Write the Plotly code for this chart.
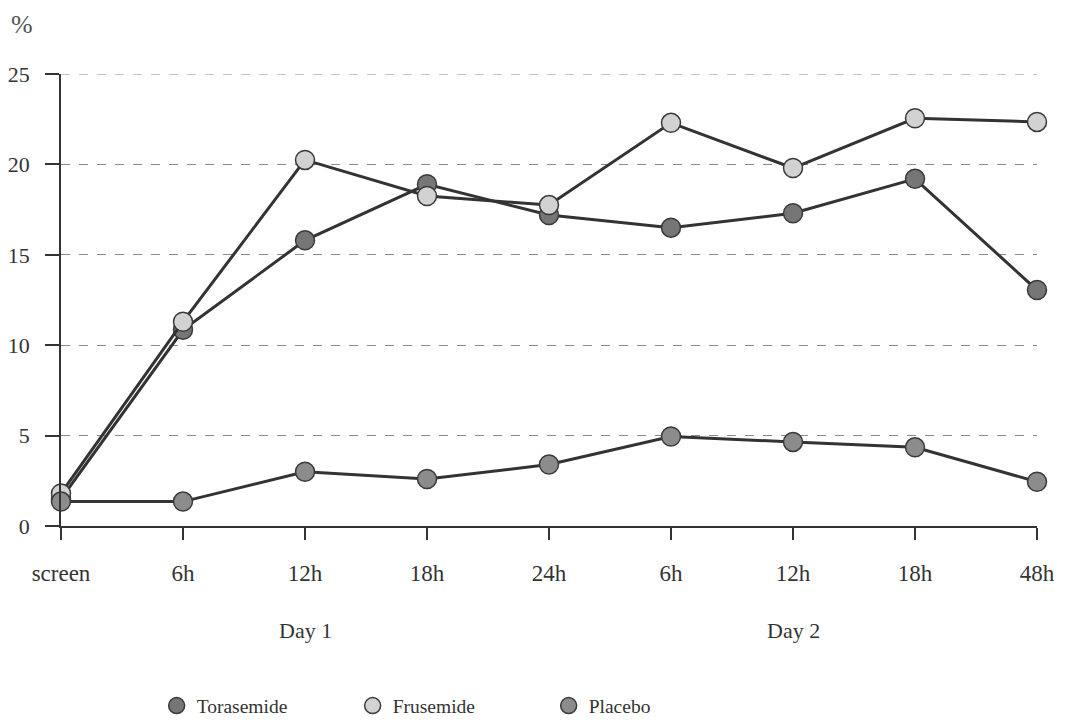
import plotly.graph_objects as go

categories = ["screen", "6h", "12h", "18h", "24h", "6h", "12h", "18h", "48h"]
torasemide = [1.5, 10.85, 15.8, 18.9, 17.2, 16.5, 17.3, 19.2, 13.05]
frusemide = [1.8, 11.3, 20.25, 18.25, 17.75, 22.3, 19.8, 22.55, 22.35]
placebo = [1.35, 1.35, 3.0, 2.6, 3.4, 4.95, 4.65, 4.35, 2.45]
series_names = ["Torasemide", "Frusemide", "Placebo"]
series_colors = ["#767676", "#d2d2d2", "#8c8c8c"]
y_ticks = [0, 5, 10, 15, 20, 25]
day_labels = ["Day 1", "Day 2"]
day_positions = [2, 6]

xs = list(range(len(categories)))
FONT = "Liberation Serif, Times New Roman, serif"

fig = go.Figure()
for name, vals, col in zip(series_names, [torasemide, frusemide, placebo], series_colors):
    fig.add_trace(go.Scatter(
        x=xs, y=vals, mode="lines+markers", name=name, showlegend=False,
        line=dict(color="#333333", width=3),
        marker=dict(size=19, color=col, line=dict(color="#3a3a3a", width=1.5)),
        cliponaxis=False,
    ))
for name, col in zip(series_names, series_colors):
    fig.add_trace(go.Scatter(
        x=[None], y=[None], mode="markers", name=name,
        marker=dict(size=18, color=col, line=dict(color="#3a3a3a", width=1.5)),
    ))

# top gridline (plotly omits the gridline at the range edge)
fig.add_shape(type="line", xref="paper", yref="y", x0=0, x1=1,
              y0=y_ticks[-1], y1=y_ticks[-1], layer="below",
              line=dict(color="#8a8a8a", width=1, dash="dash"))

for lab, pos in zip(day_labels, day_positions):
    fig.add_annotation(x=pos, y=0, xref="x", yref="paper", yshift=-104,
                       yanchor="middle", text=lab, showarrow=False,
                       font=dict(family=FONT, size=22, color="#333333"))
fig.add_annotation(x=0, y=1, xref="paper", yref="paper", xshift=-39, yshift=50,
                   xanchor="center", yanchor="middle",
                   text="%", showarrow=False,
                   font=dict(family=FONT, size=26, color="#555555"))

fig.update_layout(
    width=1060, height=714,
    margin=dict(l=53, r=31, t=66, b=196, autoexpand=False),
    paper_bgcolor="white", plot_bgcolor="white",
    font=dict(family=FONT, size=22, color="#333333"),
    legend=dict(orientation="h", x=0.098, y=-0.398, xanchor="left", yanchor="middle",
                entrywidth=151, entrywidthmode="pixels",
                font=dict(family=FONT, size=19.5, color="#333333"), itemsizing="trace"),
    xaxis=dict(range=[0, 8], tickvals=xs, ticktext=categories,
               showgrid=False, zeroline=False, showline=True,
               linecolor="#333333", linewidth=1.5,
               ticks="outside", ticklen=12, tickcolor="#333333", tickwidth=1.5,
               ticklabelstandoff=14, automargin=False,
               tickfont=dict(family=FONT, size=23, color="#333333")),
    yaxis=dict(range=[0, 25], tickvals=y_ticks,
               showgrid=True, gridcolor="#8a8a8a", griddash="dash", gridwidth=1,
               zeroline=False, showline=True, linecolor="#333333", linewidth=1.5,
               ticks="outside", ticklen=14, tickcolor="#333333", tickwidth=1.5,
               ticklabelstandoff=11, automargin=False,
               tickfont=dict(family=FONT, size=22, color="#333333")),
)

fig.write_html("out.html")
